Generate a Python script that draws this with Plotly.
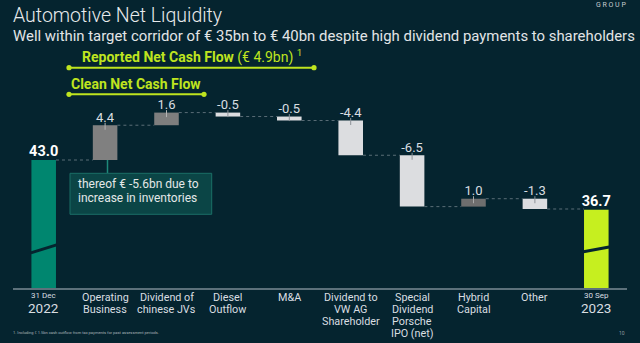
import plotly.graph_objects as go

# ---------------- data ----------------
category_labels = [
    "31 Dec<br>2022",
    "Operating<br>Business",
    "Dividend of<br>chinese JVs",
    "Diesel<br>Outflow",
    "M&A",
    "Dividend to<br>VW AG<br>Shareholder",
    "Special<br>Dividend<br>Porsche<br>IPO (net)",
    "Hybrid<br>Capital",
    "Other",
    "30 Sep<br>2023",
]
start_value = 43.0
deltas = [4.4, 1.6, -0.5, -0.5, -4.4, -6.5, 1.0, -1.3]
end_value = 36.7
value_labels = ["43.0", "4.4", "1.6", "-0.5", "-0.5", "-4.4", "-6.5", "1.0", "-1.3", "36.7"]

# ---------------- styles ----------------
BG = "#05242f"
FONT = "Roboto, 'Liberation Sans', sans-serif"
TXT = "#d9dee1"
LIME = "#c6ef1f"
LIME_TXT = "#bfe41f"
bar_colors = ["#00866f", "#808080", "#7e7e7e", "#dcdde0", "#dcdde0",
              "#dcdde0", "#dcdde0", "#6e6e6e", "#dcdde0", LIME]
tick_colors = ["#b4b4b4", "#b4b4b4", "#8d9298", "#8d9298",
               "#8d9298", "#8d9298", "#a8a8a8", "#8d9298"]

W, H = 640, 343
ML, MR, MT, MB = 13, 13, 70, 55
PW, PH = W - ML - MR, H - MT - MB
Y_BOTTOM, Y_TOP = 26.8, 54.39


def px(x):
    return (x - ML) / PW


def py(y):
    return (H - MB - y) / PH


# ---------------- derived geometry from data ----------------
n = len(category_labels)
xs = list(range(n))
bases, heights, tops = [0.0], [start_value], [start_value]
levels = [start_value]
cum = start_value
for d in deltas:
    base = cum if d > 0 else cum + d
    bases.append(base)
    heights.append(abs(d))
    tops.append(max(cum, cum + d))
    cum += d
    levels.append(cum)
bases.append(0.0)
heights.append(end_value)
tops.append(end_value)

fig = go.Figure()

fig.add_trace(go.Bar(
    x=xs, y=heights, base=bases, width=0.4,
    marker=dict(color=bar_colors, line=dict(width=0)),
    hoverinfo="skip", showlegend=False,
))

# connectors
cx, cy = [], []
for i in range(n - 1):
    cx += [i + 0.2, i + 0.8, None]
    cy += [levels[i], levels[i], None]
fig.add_trace(go.Scatter(
    x=cx, y=cy, mode="lines",
    line=dict(color="#5a6d77", width=1, dash="dot"),
    hoverinfo="skip", showlegend=False,
))

# small ticks at bar tops (movement bars)
fig.add_trace(go.Scatter(
    x=xs[1:-1], y=[t - 0.13 for t in tops[1:-1]], mode="markers",
    marker=dict(symbol="line-ns", size=5, color=tick_colors,
                line=dict(width=1, color=tick_colors)),
    hoverinfo="skip", showlegend=False,
))

# value labels
fig.add_trace(go.Scatter(
    x=xs[1:-1], y=tops[1:-1], mode="text", text=value_labels[1:-1],
    textposition="top center",
    textfont=dict(family=FONT, size=13, color=TXT),
    hoverinfo="skip", showlegend=False, cliponaxis=False,
))
fig.add_trace(go.Scatter(
    x=[xs[0], xs[-1]], y=[tops[0], tops[-1]], mode="text",
    text=[value_labels[0], value_labels[-1]],
    textposition="top center",
    textfont=dict(family=FONT, size=14.5, color="#ffffff", weight="bold"),
    hoverinfo="skip", showlegend=False, cliponaxis=False,
))

shapes = []
annotations = []

# axis breaks on total bars
for i, (vl, vr) in zip([0, n - 1], [(31.25, 32.25), (31.4, 32.0)]):
    shapes.append(dict(type="line", xref="x", yref="y",
                       x0=i - 0.21, x1=i + 0.21, y0=vl, y1=vr,
                       line=dict(color=BG, width=3), layer="above"))

# category labels (one annotation per line)
for i, lab in enumerate(category_labels):
    lines = lab.split("<br>")
    if i == 0 or i == n - 1:
        annotations.append(dict(x=i, xref="x", y=py(295), yref="paper",
                                text=lines[0], showarrow=False, yanchor="middle",
                                font=dict(family=FONT, size=8, color=TXT)))
        annotations.append(dict(x=i, xref="x", y=py(307.5), yref="paper",
                                text=lines[1], showarrow=False, yanchor="middle",
                                font=dict(family=FONT, size=13.5, color=TXT)))
    else:
        for k, ln in enumerate(lines):
            annotations.append(dict(x=i, xref="x", y=py(297.4 + 12.1 * k), yref="paper",
                                    text=ln, showarrow=False, yanchor="middle",
                                    font=dict(family=FONT, size=10.8, color=TXT)))

# titles
annotations.append(dict(x=px(11), xref="paper", y=py(16), yref="paper",
                        text="Automotive Net Liquidity", showarrow=False,
                        xanchor="left", yanchor="middle",
                        font=dict(family=FONT, size=19.5, color="#e8eaec", weight=300)))
annotations.append(dict(x=px(11), xref="paper", y=py(35.8), yref="paper",
                        text="Well within target corridor of € 35bn to € 40bn despite high dividend payments to shareholders",
                        showarrow=False, xanchor="left", yanchor="middle",
                        font=dict(family=FONT, size=14.9, color="#e2e5e7")))
annotations.append(dict(x=px(628), xref="paper", y=py(4.5), yref="paper",
                        text="G R O U P", showarrow=False, xanchor="right", yanchor="middle",
                        font=dict(family=FONT, size=7, color="#c5ccd0")))

# brackets
for (x0, x1, yl, ytxt, xt, txt) in [
    (69, 314, 67.7, 56.5, 79.5,
     "<b>Reported Net Cash Flow</b> (€ 4.9bn) <sup>1</sup>"),
    (69, 204, 94.3, 84.3, 68.5, "<b>Clean Net Cash Flow</b>"),
]:
    shapes.append(dict(type="line", xref="paper", yref="paper",
                       x0=px(x0), x1=px(x1), y0=py(yl), y1=py(yl),
                       line=dict(color=LIME_TXT, width=2)))
    for xe in (x0, x1):
        shapes.append(dict(type="circle", xref="paper", yref="paper",
                           xsizemode="pixel", ysizemode="pixel",
                           xanchor=px(xe), yanchor=py(yl),
                           x0=-2.6, x1=2.6, y0=-2.6, y1=2.6,
                           fillcolor=LIME_TXT, line=dict(width=0)))
    annotations.append(dict(x=px(xt), xref="paper", y=py(ytxt), yref="paper",
                            text=txt, showarrow=False, xanchor="left", yanchor="middle",
                            font=dict(family=FONT, size=14, color=LIME_TXT)))

# inventory annotation box
shapes.append(dict(type="line", xref="paper", yref="paper",
                   x0=px(107.5), x1=px(107.5), y0=py(160), y1=py(173.3),
                   line=dict(color="#1e8a7b", width=1.5)))
shapes.append(dict(type="rect", xref="paper", yref="paper",
                   x0=px(70), x1=px(211.7), y0=py(214.3), y1=py(173.3),
                   fillcolor="#0b4546", line=dict(color="#1b6f67", width=1)))
for ln, yy in [("thereof € -5.6bn due to", 184), ("increase in inventories", 197.7)]:
    annotations.append(dict(x=px(75.5), xref="paper", y=py(yy), yref="paper",
                            text=ln, showarrow=False, xanchor="left", yanchor="middle",
                            font=dict(family=FONT, size=12, color="#e3e8e8")))

# footnote & page number
annotations.append(dict(x=px(11), xref="paper", y=py(332.3), yref="paper",
                        text="1. Including € 1.5bn cash outflow from tax payments for past assessment periods.",
                        showarrow=False, xanchor="left", yanchor="middle",
                        font=dict(family=FONT, size=4, color="#aab4b9")))
annotations.append(dict(x=px(627), xref="paper", y=py(333.3), yref="paper",
                        text="10", showarrow=False, xanchor="right", yanchor="middle",
                        font=dict(family=FONT, size=5, color="#8d999f")))

fig.update_layout(
    width=W, height=H, autosize=False,
    margin=dict(l=ML, r=MR, t=MT, b=MB, pad=0),
    paper_bgcolor=BG, plot_bgcolor=BG,
    font=dict(family=FONT, color=TXT),
    xaxis=dict(range=[-0.5, n - 0.5], showticklabels=False, showgrid=False,
               zeroline=False, showline=True, linecolor="#5d717b", linewidth=1.5,
               ticks="", fixedrange=True),
    yaxis=dict(range=[Y_BOTTOM, Y_TOP], visible=False, showgrid=False,
               zeroline=False, fixedrange=True),
    shapes=shapes, annotations=annotations, showlegend=False,
)

fig.write_html("out.html")
